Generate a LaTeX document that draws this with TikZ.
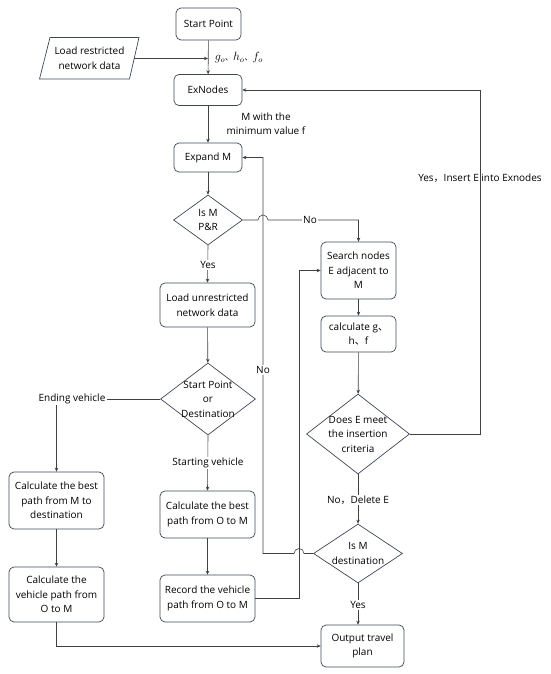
\documentclass[tikz,border=0pt]{standalone}
\usepackage{fontspec}
\setmainfont{Open Sans}
\newfontfamily\cjk{Noto Sans CJK SC}
\usetikzlibrary{shapes.geometric,arrows.meta}
\definecolor{boxc}{HTML}{3E4656}
\definecolor{linec}{HTML}{404040}
\tikzset{
  x=1pt,y=-1pt,
  every node/.style={font=\fontsize{10}{14.5}\selectfont,text=black},
  box/.style={draw=boxc,line width=0.7pt,rounded corners=5pt,align=center,inner sep=1pt},
  dia/.style={draw=boxc,line width=0.7pt,shape=diamond,inner sep=0pt},
  lbl/.style={align=center,inner sep=1pt},
  wlbl/.style={align=center,inner sep=1pt,fill=white},
  conn/.style={draw=linec,line width=0.6pt},
  arr/.style={conn,-{Stealth[length=4pt,width=3.5pt]}},
}
\begin{document}
\begin{tikzpicture}
\useasboundingbox (0,0) rectangle (550,674);
% nodes
\node[box,minimum width=65,minimum height=32] (start) at (208.5,24) {Start Point};
\node[box,minimum width=68,minimum height=31] (exn) at (208,90) {ExNodes};
\node[box,minimum width=68,minimum height=29] (expm) at (208,157.5) {Expand M};
\node[dia,minimum width=69,minimum height=50,label={[lbl]center:Is M\\P\&R}] (ispr) at (208,220) {};
\node[box,minimum width=95,minimum height=44] (lun) at (207.5,305) {Load unrestricted\\network data};
\node[dia,minimum width=95,minimum height=72,label={[lbl]center:Start Point\\or\\Destination}] (sod) at (208,399) {};
\node[box,minimum width=95,minimum height=47] (cbo) at (207.5,514.5) {Calculate the best\\path from O to M};
\node[box,minimum width=95,minimum height=47] (rec) at (207.5,598.5) {Record the vehicle\\path from O to M};
\node[box,minimum width=95,minimum height=57] (cbm) at (56.5,500.5) {Calculate the best\\path from M to\\destination};
\node[box,minimum width=95,minimum height=55] (cvp) at (56.5,594.5) {Calculate the\\vehicle path from\\O to M};
\node[box,minimum width=75,minimum height=57] (srch) at (358.5,270.5) {Search nodes\\E adjacent to\\M};
\node[box,minimum width=75,minimum height=36] (calc) at (358.5,334) {calculate g{\cjk 、}\\h{\cjk 、}f};
\node[dia,minimum width=103,minimum height=80,label={[lbl]center:Does E meet\\the insertion\\criteria}] (meet) at (358,434) {};
\node[dia,minimum width=89,minimum height=59,label={[lbl]center:Is M\\destination}] (isd) at (358,553.5) {};
\node[box,minimum width=83,minimum height=42] (out) at (362.5,646) {Output travel\\plan};
% parallelogram
\draw[draw=boxc,line width=0.7pt] (50,37.5) -- (139,37.5) -- (129.5,79) -- (39.5,79) -- cycle;
\node[lbl] (lrd) at (89.5,58.5) {Load restricted\\network data};
\coordinate (lre) at (134.3,58.5);
\coordinate (jn) at (208,58.5);
% labels
\node[lbl,font=\fontsize{11.5}{13}\selectfont] (gho) at (239,58) {$g_o${\cjk\fontsize{8}{9}\selectfont 、}$h_o${\cjk\fontsize{8}{9}\selectfont 、}$f_o$};
\node[lbl] (mmin) at (266,124) {M with the\\minimum value f};
% connectors
\draw[arr] (start) -- (exn);
\draw[arr] (lre) -- (jn);
\draw[arr] (exn) -- (expm);
\draw[arr] (expm) -- (ispr);
\draw[arr] (ispr.south) -- (lun.north);
\node[wlbl] (yes1) at (208,265) {Yes};
\draw[arr] (lun) -- (sod);
% No from IsPR to search
\draw[arr] (ispr.east) -- (258,220) arc[start angle=180,end angle=360,radius=5] -- (358.5,220) -- (srch.north);
\node[wlbl] (no1) at (310,220) {No};
\draw[arr] (srch) -- (calc);
\draw[arr] (calc) -- (meet);
\draw[arr] (meet.south) -- (isd.north);
\node[wlbl] (nodel) at (358,500) {No{\cjk ，}Delete E};
\draw[arr] (meet.east) -- (480,434) -- (480,90) -- (exn.east);
\node[lbl] (yesins) at (480,178) {Yes{\cjk ，}Insert E into Exnodes};
% Is M destination no -> Expand M
\draw[arr] (isd.west) -- (304,553.5) arc[start angle=0,end angle=-180,radius=5] -- (263,553.5) -- (263,157.5) -- (expm.east);
\node[wlbl] (no2) at (263,370) {No};
\draw[arr] (isd.south) -- (out.north -| isd.south);
\node[wlbl] (yes2) at (358,605) {Yes};
% Start point or destination
\node[lbl] (endv) at (72,399) {Ending vehicle};
\draw[conn] (sod.west) -- (endv.east);
\draw[arr] (endv.south -| cbm.north) -- (cbm.north);
\draw[arr] (sod.south) -- (cbo.north);
\node[wlbl] (startv) at (208,463) {Starting vehicle};
\draw[arr] (cbo) -- (rec);
\draw[arr] (cbm) -- (cvp);
\draw[arr] (rec.east) -- (299,598.5) -- (299,270.5) -- (srch.west);
\draw[arr] (cvp.south) -- (56.5,646) -- (out.west);
\end{tikzpicture}
\end{document}
